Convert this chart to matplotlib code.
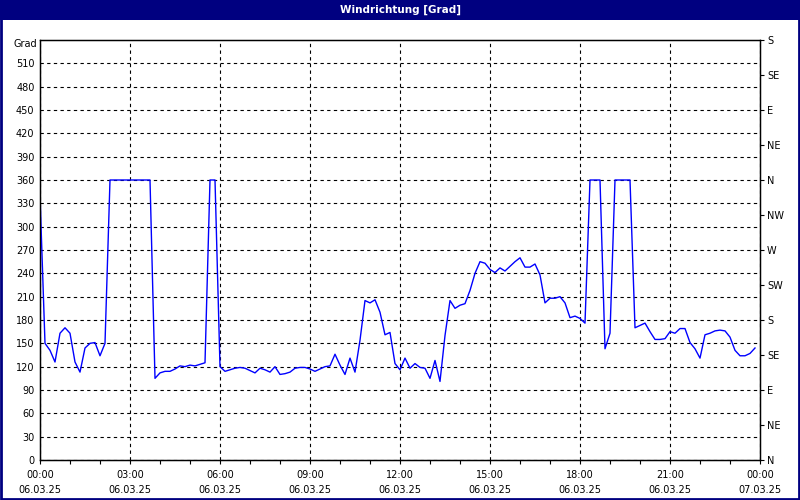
import matplotlib
matplotlib.use("Agg")
import matplotlib.pyplot as plt
from matplotlib.patches import Rectangle
import numpy as np

# ---- data (10-minute readings, 06.03.25 00:00 .. 23:50) ----
wind_dir = [
    340, 150, 141, 126, 163, 170, 163, 126, 113, 144, 150, 151, 134, 150,
    360, 360, 360, 360, 360, 360, 360, 360, 360,
    105, 112, 114, 114, 117, 121, 120, 122, 121, 123, 125,
    360, 360,
    120, 114, 116, 118, 119, 118, 115, 112, 118, 116, 113, 120, 110, 111,
    113, 118, 119, 119, 117, 114, 117, 120, 121, 136, 122, 110, 131, 113,
    154, 205, 202, 206, 190, 161, 164, 124, 116, 131, 118, 124, 119, 118,
    105, 128, 101, 160, 205, 195, 199, 201, 218, 240, 255, 253, 245, 241,
    247, 243, 249, 255, 260, 248, 248, 252, 238, 202, 208, 208, 210, 202,
    183, 185, 182, 176,
    360, 360, 360, 143, 163, 360, 360, 360, 360,
    170, 173, 176, 165, 155, 155, 156, 165, 163, 169, 169, 151, 143, 131,
    161, 163, 166, 167, 166, 158, 141, 134, 134, 137, 144,
]
minutes = np.arange(len(wind_dir)) * 10  # sample times in minutes
hours = minutes / 60.0

x_tick_hours = [0, 3, 6, 9, 12, 15, 18, 21, 24]
x_tick_labels = ["00:00\n06.03.25", "03:00\n06.03.25", "06:00\n06.03.25",
                 "09:00\n06.03.25", "12:00\n06.03.25", "15:00\n06.03.25",
                 "18:00\n06.03.25", "21:00\n06.03.25", "00:00\n07.03.25"]
y_ticks = list(range(0, 540, 30))
compass_ticks = list(range(0, 541, 45))
compass_labels = ["N", "NE", "E", "SE", "S", "SW", "W", "NW", "N",
                  "NE", "E", "SE", "S"]
title = "Windrichtung [Grad]"
y_unit = "Grad"

navy = "#000080"
plt.rcParams["font.family"] = ["DejaVu Sans"]
fs = 7

fig = plt.figure(figsize=(8, 5), dpi=100, facecolor="white")

# title bar and window border
fig.patches.append(Rectangle((0, 1 - 20 / 500), 1, 20 / 500, transform=fig.transFigure,
                             facecolor=navy, edgecolor="none", zorder=0))
fig.patches.append(Rectangle((1 / 800, 1 / 500), 798 / 800, 498 / 500, transform=fig.transFigure,
                             facecolor="none", edgecolor=navy, linewidth=2, zorder=5))
fig.text(0.5, 1 - 10 / 500, title, color="white", fontsize=7.5, fontweight="bold",
         ha="center", va="center")

ax = fig.add_axes([40 / 800, 40 / 500, 720 / 800, 420 / 500])
ax.set_facecolor("white")
ax.plot(hours, wind_dir, color="#0000FF", linewidth=1.0, zorder=3)

ax.set_xlim(0, 24)
ax.set_ylim(0, 540)

ax.set_xticks(x_tick_hours)
ax.set_xticklabels(x_tick_labels, fontsize=fs, linespacing=1.65)
ax.set_xticks(np.arange(0, 25, 1), minor=True)
ax.tick_params(axis="x", which="both", direction="out", length=3, width=0.8, pad=4)

ax.set_yticks(y_ticks)
ax.set_yticklabels([str(v) for v in y_ticks], fontsize=fs)
ax.tick_params(axis="y", which="both", length=0, pad=4)

ax.grid(True, which="major", color="black", linestyle=(0, (3, 3)), linewidth=0.8)

for s in ax.spines.values():
    s.set_color("black")
    s.set_linewidth(1.0)

ax2 = ax.twinx()
ax2.set_ylim(0, 540)
ax2.set_yticks(compass_ticks)
ax2.set_yticklabels(compass_labels, fontsize=fs)
ax2.tick_params(axis="y", direction="out", length=3, width=0.8, pad=2)
for s in ax2.spines.values():
    s.set_color("black")

fig.text(37 / 800, 1 - 44 / 500, y_unit, fontsize=fs, ha="right", va="center")

fig.savefig("out.png", dpi=100, facecolor="white")
